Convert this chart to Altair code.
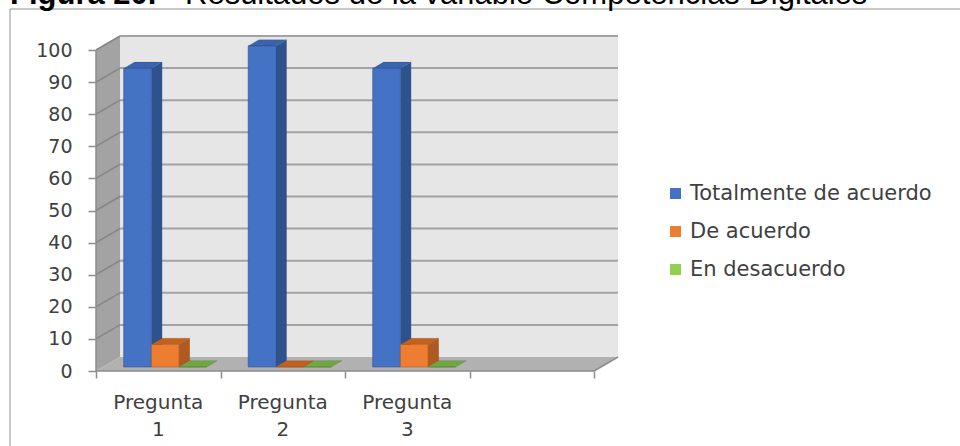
import altair as alt
import pandas as pd

# ---- data -------------------------------------------------------------
categories = ["Pregunta 1", "Pregunta 2", "Pregunta 3"]
series = ["Totalmente de acuerdo", "De acuerdo", "En desacuerdo"]
totalmente_de_acuerdo = [93, 100, 93]
de_acuerdo = [7, 0, 7]
en_desacuerdo = [0, 0, 0]
y_ticks = [0, 10, 20, 30, 40, 50, 60, 70, 80, 90, 100]
title_bold = "Figura 20."
title_rest = "Resultados de la variable Competencias Digitales"

values_by_series = [totalmente_de_acuerdo, de_acuerdo, en_desacuerdo]

# ---- styling ----------------------------------------------------------
front_colors = ["#4472c4", "#ed7d31", "#92d050"]
side_colors = ["#2f528f", "#ae5a21", "#5f8f34"]
top_colors = ["#3b63ae", "#c4601d", "#6fa843"]
AXIS_GREY = "#8c8c8c"
TEXT = "#404040"
FONT = "DejaVu Sans"

# ---- 3-D frame geometry (in data units) -------------------------------
SLOTS = 4                # category slots on the floor (last one empty)
PX_X = 124.5             # pixels per slot
PX_Y = 3.21              # pixels per value unit
DX = 24 / PX_X           # wall depth, horizontal component
DY = 14 / PX_Y           # wall depth, vertical component
BW = 1 / 4.5             # bar width per slot
PAD = (1 - 3 * BW) / 2   # gap before the first bar of a slot
F0 = 0.29                # depth at which bar fronts stand
BD = 0.45                # bar depth as a fraction of the wall depth

W = round((SLOTS + DX) * PX_X)
H = round((100 + DY) * PX_Y)
LEFT, TOP = 96, 36

xscale = alt.Scale(domain=[0, SLOTS + DX], nice=False, zero=False)
yscale = alt.Scale(domain=[0, 100 + DY], nice=False, zero=False)

x_axis = alt.Axis(values=list(range(SLOTS + 1)), labels=False, domain=False,
                  grid=False, tickSize=7, tickColor=AXIS_GREY, tickWidth=1.5,
                  title=None)
y_axis = alt.Axis(values=y_ticks, domain=False, grid=False, tickSize=8,
                  tickColor=AXIS_GREY, tickWidth=1.5, labelFont=FONT,
                  labelFontSize=19, labelColor=TEXT, labelPadding=16,
                  labelOverlap=False, labelFlush=False, title=None)

# ---- tables -----------------------------------------------------------
front_rows, side_rows, top_rows = [], [], []
for ci, cat in enumerate(categories):
    for si, ser in enumerate(series):
        v = values_by_series[si][ci]
        x0 = ci + PAD + si * BW + F0 * DX
        y0 = F0 * DY
        bdx, bdy = BD * DX, BD * DY
        bar = f"{cat}|{ser}"
        front_rows.append(dict(bar=bar, serie=ser, x=x0, x2=x0 + BW,
                               y=y0, y2=y0 + v, edge=side_colors[si]))
        side_rows += [
            dict(bar=bar, x=x0 + BW, y=y0, y2=y0 + v, c=side_colors[si]),
            dict(bar=bar, x=x0 + BW + bdx, y=y0 + bdy, y2=y0 + bdy + v,
                 c=side_colors[si]),
        ]
        top_rows += [
            dict(bar=bar, y=y0 + v, x=x0, x2=x0 + BW, c=top_colors[si]),
            dict(bar=bar, y=y0 + v + bdy, x=x0 + bdx, x2=x0 + BW + bdx,
                 c=top_colors[si]),
        ]
front_df = pd.DataFrame(front_rows)
side_df = pd.DataFrame(side_rows)
top_df = pd.DataFrame(top_rows)

side_wall = pd.DataFrame({"x": [0, DX], "y": [0, DY], "y2": [100, 100 + DY]})
floor = pd.DataFrame({"y": [0, DY], "x": [0, DX], "x2": [SLOTS, SLOTS + DX]})
back_wall = pd.DataFrame({"x": [DX], "x2": [SLOTS + DX], "y": [DY], "y2": [100 + DY]})
grid_back = pd.DataFrame({"x": DX, "x2": SLOTS + DX,
                          "y": [t + DY for t in y_ticks[1:]],
                          "y2": [t + DY for t in y_ticks[1:]]})
grid_side = pd.DataFrame({"x": 0, "x2": DX, "y": y_ticks[1:],
                          "y2": [t + DY for t in y_ticks[1:]]})
axis_lines = pd.DataFrame({"x": [0, 0], "x2": [0, SLOTS], "y": [0, 0],
                           "y2": [100, 0]})
floor_edge = pd.DataFrame({"x": [SLOTS], "x2": [SLOTS + DX], "y": [0], "y2": [DY]})
labels_df = pd.DataFrame({"cat": categories,
                          "x": [i + 0.5 for i in range(len(categories))]})
title_df = pd.DataFrame({"t": [title_bold], "r": [title_rest]})


def X(field):
    return alt.X(field, type="quantitative", scale=xscale, axis=x_axis)


def Y(field):
    return alt.Y(field, type="quantitative", scale=yscale, axis=y_axis)


# ---- layers -----------------------------------------------------------
border = alt.Chart(title_df).mark_rule(color="#909090", strokeWidth=1).encode(
    x=alt.value(10 - LEFT), x2=alt.value(1000), y=alt.value(9 - TOP))
border_left = alt.Chart(title_df).mark_rule(color="#909090", strokeWidth=1).encode(
    x=alt.value(10 - LEFT), y=alt.value(9 - TOP), y2=alt.value(600))

title1 = alt.Chart(title_df).mark_text(
    align="left", baseline="alphabetic", font="Liberation Sans", fontSize=31,
    fontWeight="bold", color="black").encode(
    x=alt.value(10 - LEFT), y=alt.value(4 - TOP), text="t:N")
title2 = alt.Chart(title_df).mark_text(
    align="left", baseline="alphabetic", font="Liberation Sans", fontSize=31,
    color="black").encode(
    x=alt.value(185 - LEFT), y=alt.value(4 - TOP), text="r:N")

wall_side = alt.Chart(side_wall).mark_area(orient="vertical", color="#a3a3a3").encode(
    x=X("x"), y=Y("y"), y2="y2")

wall_back = alt.Chart(back_wall).mark_rect(color="#e6e6e6").encode(
    x=X("x"), x2="x2", y=Y("y"), y2="y2")

back_lines = alt.Chart(grid_back).mark_rule(color="#a3a3a3", strokeWidth=2).encode(
    x=X("x"), x2="x2", y=Y("y"), y2="y2")
side_lines = alt.Chart(grid_side).mark_rule(color="#858585", strokeWidth=1.5).encode(
    x=X("x"), x2="x2", y=Y("y"), y2="y2")

floor_area = alt.Chart(floor).mark_area(orient="horizontal", color="#b1b1b1").encode(
    y=Y("y"), x=X("x"), x2="x2")
floor_right = alt.Chart(floor_edge).mark_rule(color=AXIS_GREY, strokeWidth=1.5).encode(
    x=X("x"), x2="x2", y=Y("y"), y2="y2")

bar_sides = alt.Chart(side_df).mark_area(orient="vertical").encode(
    x=X("x"), y=Y("y"), y2="y2", detail="bar:N",
    fill=alt.Fill("c:N", scale=None))
bar_tops = alt.Chart(top_df).mark_area(orient="horizontal", stroke="#00000033",
                                       strokeWidth=0.5).encode(
    y=Y("y"), x=X("x"), x2="x2", detail="bar:N",
    fill=alt.Fill("c:N", scale=None))
bar_fronts = alt.Chart(front_df).mark_rect(strokeWidth=0.6).encode(
    x=X("x"), x2="x2", y=Y("y"), y2="y2",
    color=alt.Color("serie:N", scale=alt.Scale(domain=series, range=front_colors),
                    legend=alt.Legend(
                        orient="none", legendX=569, legendY=147, title=None,
                        symbolType="square", symbolSize=120,
                        symbolStrokeWidth=0, labelFont=FONT, labelFontSize=21,
                        labelColor=TEXT, labelOffset=4, rowPadding=16,
                        padding=0, labelLimit=400)),
    stroke=alt.Stroke("edge:N", scale=None))

axes = alt.Chart(axis_lines).mark_rule(color=AXIS_GREY, strokeWidth=1.5).encode(
    x=X("x"), x2="x2", y=Y("y"), y2="y2")

cat_labels = alt.Chart(labels_df).mark_text(
    align="center", baseline="alphabetic", font=FONT, fontSize=20, color=TEXT,
    lineBreak=" ", lineHeight=27).encode(
    x=X("x"), y=alt.value(409 - TOP), text="cat:N")

chart = alt.layer(
    border, border_left, title1, title2,
    wall_side, wall_back, back_lines, side_lines, floor_area, floor_right,
    bar_sides, bar_tops, bar_fronts, axes, cat_labels,
).properties(
    width=W, height=H,
    autosize=alt.AutoSizeParams(type="none"),
    padding={"left": LEFT, "top": TOP, "right": 960 - LEFT - W,
             "bottom": 446 - TOP - H},
    background="white",
).configure_view(stroke=None)

chart.save("out.html", embed_options={"renderer": "svg", "actions": False})
